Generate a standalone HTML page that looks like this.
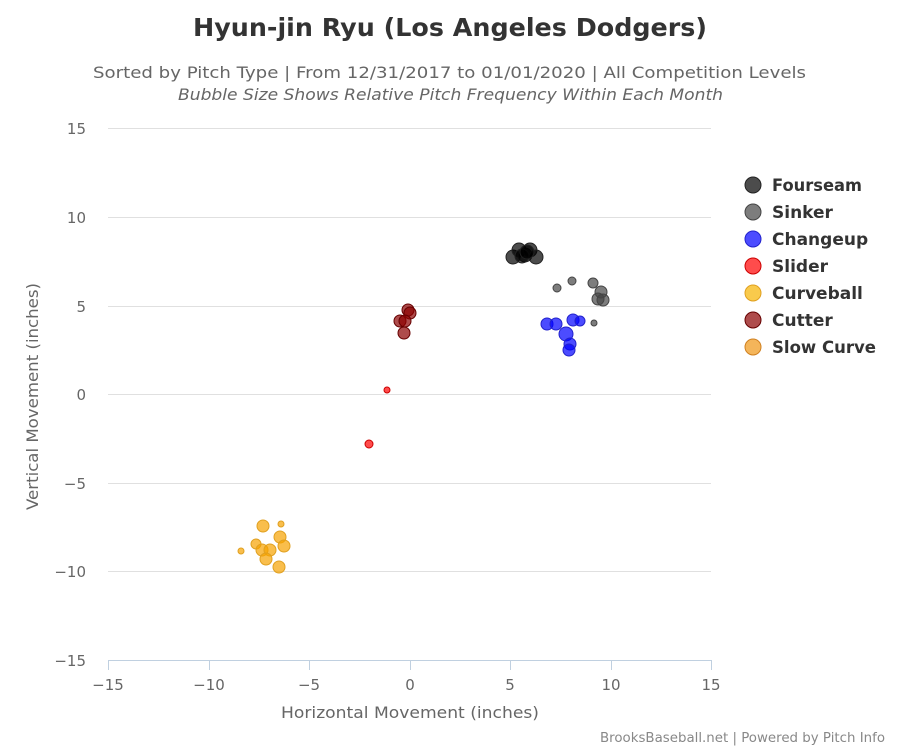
<!DOCTYPE html><html><head><style>body{margin:0;background:#fff}svg{font-family:"DejaVu Sans","Liberation Sans",sans-serif}</style></head><body>
<svg width="900" height="750" xmlns="http://www.w3.org/2000/svg">
<text x="193" y="36" font-size="25" font-weight="bold" fill="#333" textLength="514" lengthAdjust="spacingAndGlyphs">Hyun-jin Ryu (Los Angeles Dodgers)</text>
<text x="93" y="78" font-size="16" fill="#666" textLength="713" lengthAdjust="spacingAndGlyphs">Sorted by Pitch Type | From 12/31/2017 to 01/01/2020 | All Competition Levels</text>
<text x="178" y="100" font-size="16" font-style="italic" fill="#666" textLength="545" lengthAdjust="spacingAndGlyphs">Bubble Size Shows Relative Pitch Frequency Within Each Month</text>
<g stroke="#e0e0e0" stroke-width="1">
<line x1="108" x2="711" y1="128.5" y2="128.5"/><line x1="108" x2="711" y1="217.5" y2="217.5"/><line x1="108" x2="711" y1="306.5" y2="306.5"/><line x1="108" x2="711" y1="394.5" y2="394.5"/><line x1="108" x2="711" y1="483.5" y2="483.5"/><line x1="108" x2="711" y1="571.5" y2="571.5"/>
</g>
<line x1="108" x2="711" y1="660.5" y2="660.5" stroke="#c0d0e0"/>
<g stroke="#c0d0e0"><line x1="108.5" x2="108.5" y1="660" y2="670"/><line x1="209.5" x2="209.5" y1="660" y2="670"/><line x1="309.5" x2="309.5" y1="660" y2="670"/><line x1="410.5" x2="410.5" y1="660" y2="670"/><line x1="510.5" x2="510.5" y1="660" y2="670"/><line x1="611.5" x2="611.5" y1="660" y2="670"/><line x1="711.5" x2="711.5" y1="660" y2="670"/></g>
<g font-size="15" fill="#666" text-anchor="end"><text x="86" y="134">15</text><text x="86" y="223">10</text><text x="86" y="312">5</text><text x="86" y="400">0</text><text x="86" y="489">−5</text><text x="86" y="577">−10</text><text x="86" y="666">−15</text></g>
<g font-size="15" fill="#666" text-anchor="middle"><text x="108" y="690">−15</text><text x="209" y="690">−10</text><text x="309" y="690">−5</text><text x="410" y="690">0</text><text x="510" y="690">5</text><text x="611" y="690">10</text><text x="711" y="690">15</text></g>
<text x="281" y="718" font-size="16" fill="#666" textLength="258" lengthAdjust="spacingAndGlyphs">Horizontal Movement (inches)</text>
<text transform="translate(38,510) rotate(-90)" font-size="16" fill="#666" textLength="227" lengthAdjust="spacingAndGlyphs">Vertical Movement (inches)</text>
<g fill="rgba(0,0,0,0.7)" stroke="#222"><circle cx="513" cy="257" r="7"/><circle cx="519" cy="250" r="7"/><circle cx="525" cy="255" r="7"/><circle cx="530" cy="250" r="7"/><circle cx="536" cy="257" r="7"/><circle cx="522" cy="256" r="7"/><circle cx="527" cy="252" r="7"/></g>
<g fill="rgba(70,70,70,0.7)" stroke="#444"><circle cx="557" cy="288" r="4"/><circle cx="572" cy="281" r="4"/><circle cx="593" cy="283" r="5"/><circle cx="601" cy="292" r="6"/><circle cx="598" cy="299" r="6"/><circle cx="603" cy="300" r="6"/><circle cx="594" cy="323" r="3"/></g>
<g fill="rgba(0,0,255,0.7)" stroke="#22c"><circle cx="547" cy="324" r="6"/><circle cx="556" cy="324" r="6"/><circle cx="573" cy="320" r="6"/><circle cx="580" cy="321" r="5"/><circle cx="566" cy="334" r="7"/><circle cx="570" cy="344" r="6"/><circle cx="569" cy="350" r="6"/></g>
<g fill="rgba(255,0,0,0.7)" stroke="#c00"><circle cx="387" cy="390" r="3"/><circle cx="369" cy="444" r="4"/></g>
<g fill="rgba(139,0,0,0.7)" stroke="#600"><circle cx="408" cy="310" r="6"/><circle cx="410" cy="313" r="6"/><circle cx="400" cy="321" r="6"/><circle cx="405" cy="321" r="6"/><circle cx="404" cy="333" r="6"/></g>
<g fill="rgba(247,163,0,0.7)" stroke="#e0a020"><circle cx="263" cy="526" r="6"/><circle cx="281" cy="524" r="3"/><circle cx="241" cy="551" r="3"/><circle cx="256" cy="544" r="5"/><circle cx="262" cy="550" r="6"/><circle cx="270" cy="550" r="6"/><circle cx="266" cy="559" r="6"/><circle cx="280" cy="537" r="6"/><circle cx="284" cy="546" r="6"/><circle cx="279" cy="567" r="6"/></g>
<g font-size="17" font-weight="bold" fill="#333">
<circle cx="753" cy="185" r="8" fill="rgba(0,0,0,0.7)" stroke="#222"/><text x="772" y="191" textLength="90" lengthAdjust="spacingAndGlyphs">Fourseam</text>
<circle cx="753" cy="212" r="8" fill="rgba(70,70,70,0.7)" stroke="#444"/><text x="772" y="218">Sinker</text>
<circle cx="753" cy="239" r="8" fill="rgba(0,0,255,0.7)" stroke="#22c"/><text x="772" y="245">Changeup</text>
<circle cx="753" cy="266" r="8" fill="rgba(255,0,0,0.7)" stroke="#c00"/><text x="772" y="272">Slider</text>
<circle cx="753" cy="293" r="8" fill="rgba(247,180,0,0.7)" stroke="#e0a020"/><text x="772" y="299">Curveball</text>
<circle cx="753" cy="320" r="8" fill="rgba(139,0,0,0.7)" stroke="#600"/><text x="772" y="326">Cutter</text>
<circle cx="753" cy="347" r="8" fill="rgba(240,150,20,0.7)" stroke="#d08020"/><text x="772" y="353" textLength="104" lengthAdjust="spacingAndGlyphs">Slow Curve</text>
</g>
<text x="600" y="742" font-size="13" fill="#888" textLength="285" lengthAdjust="spacingAndGlyphs">BrooksBaseball.net | Powered by Pitch Info</text>
</svg></body></html>
